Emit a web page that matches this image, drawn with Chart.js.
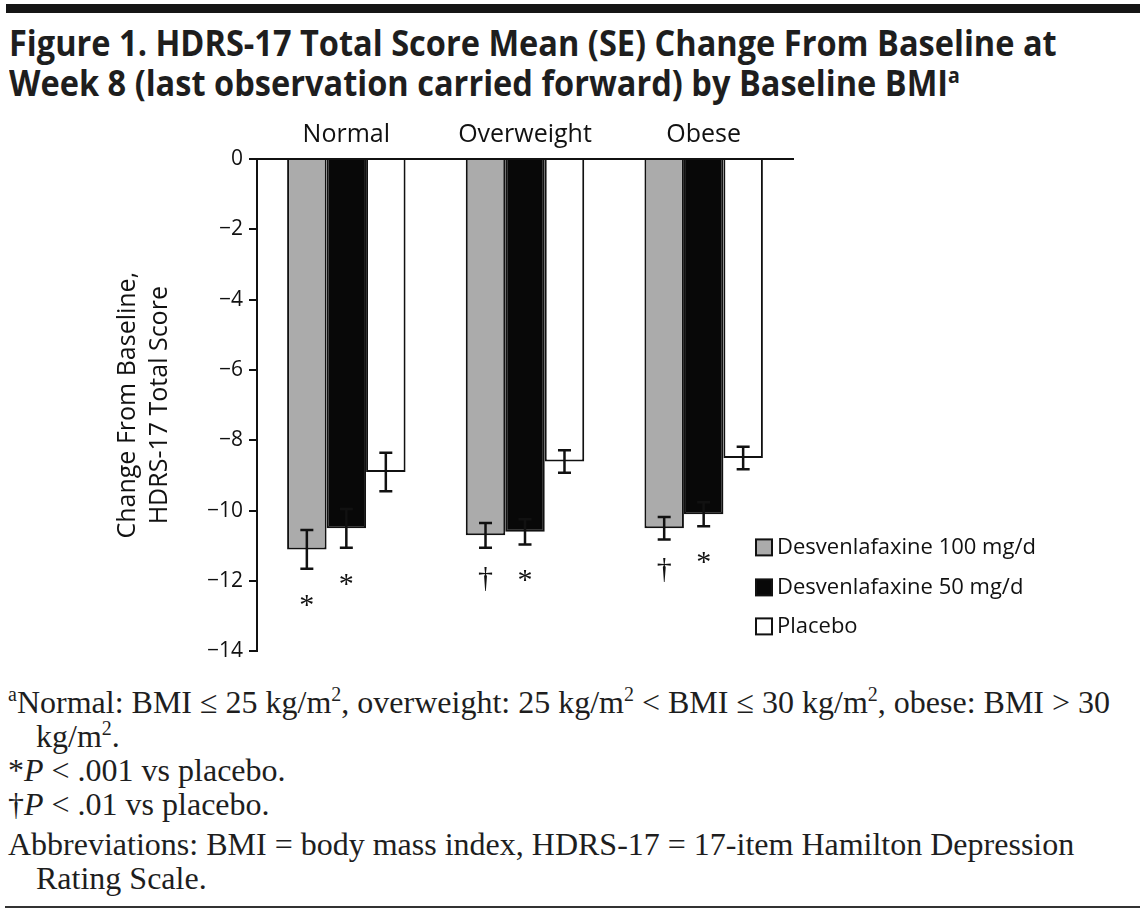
<!DOCTYPE html>
<html>
<head>
<meta charset="utf-8">
<script src="https://cdn.jsdelivr.net/npm/chart.js@4.4.1/dist/chart.umd.min.js"></script>
<style>
  body { margin: 0; background: #fff; }
  #page { position: relative; width: 1144px; height: 915px; overflow: hidden; background: #fff; }
  #topbar { position: absolute; left: 6px; top: 4px; width: 1134px; height: 9px; background: #151515; }
  #title { position: absolute; left: 9px; top: 23px; font-family: "Open Sans", sans-serif; font-weight: 700; font-size: 35px; line-height: 40px; color: #1e1e1e; white-space: nowrap; transform: scaleX(0.93); transform-origin: left top; }
  #title sup { font-size: 21px; line-height: 0; }
  #chart-box { position: absolute; left: 0; top: 110px; width: 1144px; height: 560px; }
  #notes { position: absolute; left: 8px; top: 685px; font-family: "Liberation Serif", serif; font-size: 32px; line-height: 34px; color: #1e1e1e; white-space: nowrap; }
  #notes div { padding-left: 28px; text-indent: -28px; }
  #notes sup { font-size: 20px; line-height: 0; }
  #notes .abbr { margin-top: 6px; }
  #bottombar { position: absolute; left: 5px; top: 906px; width: 1135px; height: 2px; background: #333; }
</style>
</head>
<body>
<div id="page">
  <div id="topbar"></div>
  <div id="title">Figure 1. HDRS-17 Total Score Mean (SE) Change From Baseline at<br>Week 8 (last observation carried forward) by Baseline BMI<sup>a</sup></div>
  <div id="chart-box"><canvas id="chart" width="1144" height="560"></canvas></div>
  <div id="notes">
    <div><sup>a</sup>Normal: BMI ≤ 25 kg/m<sup>2</sup>, overweight: 25 kg/m<sup>2</sup> &lt; BMI ≤ 30 kg/m<sup>2</sup>, obese: BMI &gt; 30<br>kg/m<sup>2</sup>.</div>
    <div>*<i>P</i> &lt; .001 vs placebo.</div>
    <div>†<i>P</i> &lt; .01 vs placebo.</div>
    <div class="abbr">Abbreviations: BMI = body mass index, HDRS-17 = 17-item Hamilton Depression<br>Rating Scale.</div>
  </div>
  <div id="bottombar"></div>
</div>
<script>
const categories = ["Normal", "Overweight", "Obese"];
const seriesLabels = ["Desvenlafaxine 100 mg/d", "Desvenlafaxine 50 mg/d", "Placebo"];

const dvs100 = [-11.1, -10.7, -10.5];
const dvs50 = [-10.5, -10.6, -10.1];
const placebo = [-8.9, -8.6, -8.5];

const dvs100Se = [0.55, 0.35, 0.32];
const dvs50Se = [0.55, 0.36, 0.34];
const placeboSe = [0.55, 0.32, 0.32];

const dvs100Marks = ["*", "†", "†"];
const dvs50Marks = ["*", "*", "*"];
const placeboMarks = ["", "", ""];

const yTicks = [0, -2, -4, -6, -8, -10, -12, -14];

const sansFont = "'Open Sans', sans-serif";
const serifFont = "'Liberation Serif', serif";

function fmtTick(v){
  return v < 0 ? "\u2212" + Math.abs(v) : String(v);
}

// error bars + significance marks under the bars
const errorBarPlugin = {
  id: "errorBars",
  afterDatasetsDraw(chart){
    const ctx = chart.ctx;
    const yScale = chart.scales.y;
    chart.data.datasets.forEach((ds, i) => {
      const meta = chart.getDatasetMeta(i);
      meta.data.forEach((bar, j) => {
        const v = ds.data[j];
        const se = ds.se[j];
        const yLow = yScale.getPixelForValue(v - se);
        const yHigh = yScale.getPixelForValue(v + se);
        ctx.save();
        ctx.strokeStyle = "#111";
        ctx.lineWidth = 2.5;
        ctx.beginPath();
        ctx.moveTo(bar.x, yHigh);
        ctx.lineTo(bar.x, yLow);
        ctx.moveTo(bar.x - 6.5, yHigh);
        ctx.lineTo(bar.x + 6.5, yHigh);
        ctx.moveTo(bar.x - 6.5, yLow);
        ctx.lineTo(bar.x + 6.5, yLow);
        ctx.stroke();
        const mark = ds.marks[j];
        if(mark){
          ctx.fillStyle = "#111";
          ctx.textAlign = "center";
          ctx.textBaseline = "middle";
          ctx.font = "30px " + serifFont;
          ctx.fillText(mark, bar.x, yLow + (mark === "*" ? 37 : 31));
        }
        ctx.restore();
      });
    });
  }
};

// legend drawn inside the plot, lower right
const insideLegendPlugin = {
  id: "insideLegend",
  afterDraw(chart){
    const ctx = chart.ctx;
    const area = chart.chartArea;
    const x0 = area.right - 37;
    const rows = [area.bottom - 104, area.bottom - 64, area.bottom - 25];
    chart.data.datasets.forEach((ds, i) => {
      const cy = rows[i];
      ctx.save();
      ctx.fillStyle = ds.backgroundColor;
      ctx.strokeStyle = "#111";
      ctx.lineWidth = 2;
      ctx.fillRect(x0, cy - 8, 16, 16);
      ctx.strokeRect(x0, cy - 8, 16, 16);
      ctx.fillStyle = "#111";
      ctx.font = "22px " + sansFont;
      ctx.textAlign = "left";
      ctx.textBaseline = "middle";
      ctx.fillText(ds.label, x0 + 21, cy);
      ctx.restore();
    });
  }
};

const chart = new Chart(document.getElementById("chart"), {
  type: "bar",
  data: {
    labels: categories,
    datasets: [
      { label: seriesLabels[0], data: dvs100, se: dvs100Se, marks: dvs100Marks, backgroundColor: "#ababab" },
      { label: seriesLabels[1], data: dvs50, se: dvs50Se, marks: dvs50Marks, backgroundColor: "#080808" },
      { label: seriesLabels[2], data: placebo, se: placeboSe, marks: placeboMarks, backgroundColor: "#ffffff" }
    ]
  },
  options: {
    responsive: false,
    animation: false,
    devicePixelRatio: 1,
    layout: { padding: { left: 0, right: 351, top: 0, bottom: 11 } },
    datasets: {
      bar: { borderColor: "#111", borderWidth: 2, barPercentage: 1, categoryPercentage: 0.663 }
    },
    plugins: {
      legend: { display: false },
      tooltip: { enabled: false }
    },
    scales: {
      x: {
        position: "top",
        grid: { display: false, drawTicks: false },
        border: { display: true, color: "#111", width: 2 },
        ticks: { color: "#111", font: { family: sansFont, size: 25 }, padding: 9 },
        afterFit(scale){ scale.height = 49; }
      },
      y: {
        min: -14,
        max: 0,
        afterBuildTicks(scale){ scale.ticks = yTicks.map(v => ({ value: v })); },
        grid: { drawOnChartArea: false, drawTicks: true, tickLength: 8, color: "#111", lineWidth: 2 },
        border: { display: true, color: "#111", width: 2 },
        ticks: { color: "#111", font: { family: sansFont, size: 21 }, padding: 6, callback: v => fmtTick(v) },
        title: {
          display: true,
          text: ["Change From Baseline,", "HDRS-17 Total Score"],
          color: "#111",
          font: { family: sansFont, size: 25, lineHeight: 1.28 },
          padding: { top: 112 }
        },
        afterFit(scale){ scale.width = 257; }
      }
    }
  },
  plugins: [errorBarPlugin, insideLegendPlugin]
});
</script>
</body>
</html>
